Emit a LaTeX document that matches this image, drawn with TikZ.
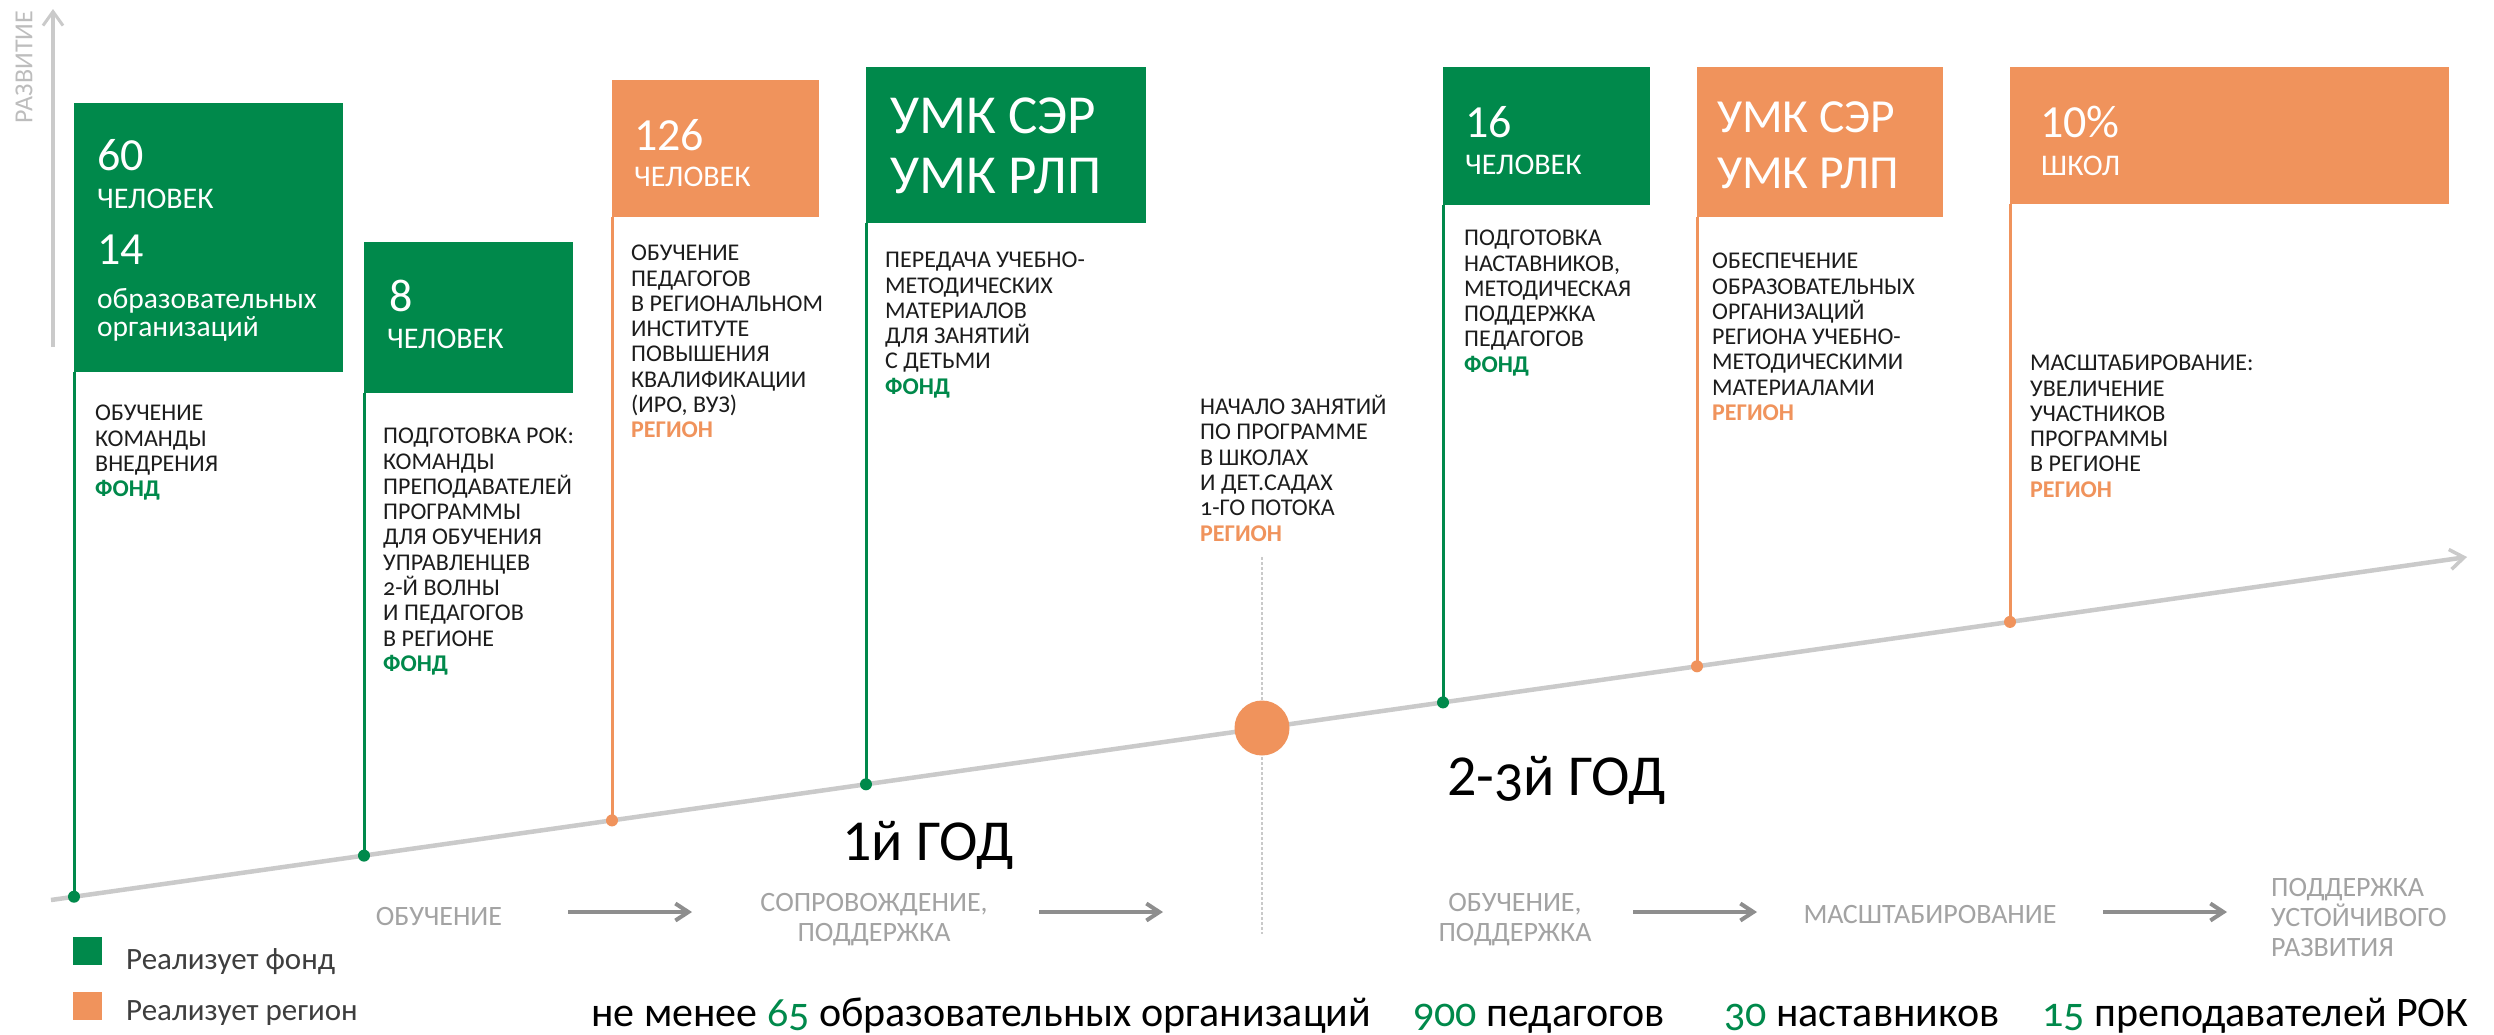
\documentclass[tikz,border=0pt]{standalone}
\usepackage{fontspec}
\setmainfont{Carlito}
\newfontfamily\oldnum[Numbers=OldStyle]{Carlito}
\usetikzlibrary{arrows.meta}
\definecolor{fgreen}{HTML}{00894B}
\definecolor{forange}{HTML}{F0935C}
\definecolor{tlgray}{HTML}{CACACA}
\definecolor{lblgray}{HTML}{A3A3A3}
\definecolor{arrgray}{HTML}{8E8E8E}
\definecolor{txt}{HTML}{1C1C1C}
\definecolor{axtxt}{HTML}{BDBDBD}
\newcommand\fondlbl{{\bfseries\color{fgreen}ФОНД}}
\newcommand\regionlbl{{\bfseries\color{forange}РЕГИОН}}
\begin{document}
\begin{tikzpicture}[x=1pt,y=-1pt,
  gbox/.style={fill=fgreen,draw=none,inner sep=0pt,anchor=north west},
  obox/.style={fill=forange,draw=none,inner sep=0pt,anchor=north west},
  gpole/.style={draw=fgreen,line width=3pt},
  opole/.style={draw=forange,line width=3pt},
  gdot/.style={circle,fill=fgreen,inner sep=0pt,minimum size=12pt},
  odot/.style={circle,fill=forange,inner sep=0pt,minimum size=12pt},
  body/.style={anchor=north west,inner sep=0pt,align=left,text=txt,font=\fontsize{24}{25.3}\selectfont},
  bignum/.style={anchor=base west,inner sep=0pt,text=white,font=\fontsize{46}{46}\selectfont},
  unit/.style={anchor=base west,inner sep=0pt,text=white,font=\fontsize{30}{30}\selectfont},
  umk/.style={anchor=base west,inner sep=0pt,text=white,align=left},
  stage/.style={inner sep=0pt,text=lblgray,align=center,font=\fontsize{28}{30}\selectfont},
  flow/.style={draw=arrgray,line width=4.5pt,-{Straight Barb[length=13pt,width=17pt,line width=4pt]}},
  year/.style={anchor=base west,inner sep=0pt,text=black,font=\fontsize{58}{58}\selectfont},
  total/.style={anchor=base west,inner sep=0pt,text=black,font=\fontsize{42}{42}\selectfont},
  legend/.style={anchor=base west,inner sep=0pt,text=txt!85,font=\fontsize{31}{31}\selectfont}
]
\useasboundingbox[fill=white] (0,0) rectangle (2494,1034);

% development axis
\coordinate (ax0) at (53,347);
\coordinate (ax1) at (53,9);
\draw[tlgray,line width=3.5pt,-{Straight Barb[length=14pt,width=20pt,line width=3pt]}] (ax0) -- (ax1);
\node[rotate=90,inner sep=0pt,text=axtxt,font=\fontsize{26}{26}\selectfont] (axl) at (24,67) {РАЗВИТИЕ};

% timeline
\coordinate (tl0) at (51,900);
\coordinate (tl1) at (2467,557);
\draw[tlgray,line width=4.5pt,-{Straight Barb[length=14pt,width=20pt,line width=3.5pt]}] (tl0) -- (tl1);

% vertical dashed divider
\coordinate (dv0) at (1262,557);
\coordinate (dv1) at (1262,934);
\draw[tlgray,line width=1.2pt,dash pattern=on 3pt off 2pt] (dv0) -- (dv1);
\node[circle,fill=forange,inner sep=0pt,minimum size=55pt] (mid) at (1262,728) {};

% dots on the timeline
\node[gdot] (d1) at (74,896.7) {};
\node[gdot] (d2) at (364,855.6) {};
\node[odot] (d3) at (612,820.4) {};
\node[gdot] (d4) at (866,784.3) {};
\node[gdot] (d5) at (1443,702.4) {};
\node[odot] (d6) at (1697,666.3) {};
\node[odot] (d7) at (2010,621.9) {};

% boxes
\node[gbox,minimum width=269pt,minimum height=269pt] (b1) at (74,103) {};
\node[gbox,minimum width=209pt,minimum height=151pt] (b2) at (364,242) {};
\node[obox,minimum width=207pt,minimum height=137pt] (b3) at (612,80) {};
\node[gbox,minimum width=280pt,minimum height=156pt] (b4) at (866,67) {};
\node[gbox,minimum width=207pt,minimum height=138pt] (b5) at (1443,67) {};
\node[obox,minimum width=246pt,minimum height=150pt] (b6) at (1697,67) {};
\node[obox,minimum width=439pt,minimum height=137pt] (b7) at (2010,67) {};

% poles
\draw[gpole] (d1.center) -- (b1.south west);
\draw[gpole] (d2.center) -- (b2.south west);
\draw[opole] (d3.center) -- (b3.south west);
\draw[gpole] (d4.center) -- (b4.south west);
\draw[gpole] (d5.center) -- (b5.south west);
\draw[opole] (d6.center) -- (b6.south west);
\draw[opole] (d7.center) -- (b7.south west);

% box headers
\node[bignum] (n1) at (97,170) {60};
\node[unit] (u1) at (97,208) {ЧЕЛОВЕК};
\node[bignum] (n1b) at (97,264) {14};
\node[unit,font=\fontsize{29.5}{29.5}\selectfont] (u1b) at (97,308) {образовательных};
\node[unit,font=\fontsize{29.5}{29.5}\selectfont] (u1c) at (97,336) {организаций};
\node[bignum] (n2) at (389,311) {8};
\node[unit] (u2) at (387,348) {ЧЕЛОВЕК};
\node[bignum] (n3) at (634,150) {126};
\node[unit] (u3) at (634,186) {ЧЕЛОВЕК};
\node[umk,font=\fontsize{55}{55}\selectfont] (m4a) at (890,133) {УМК СЭР};
\node[umk,font=\fontsize{55}{55}\selectfont] (m4b) at (890,193) {УМК РЛП};
\node[bignum] (n5) at (1465,137) {16};
\node[unit] (u5) at (1465,174) {ЧЕЛОВЕК};
\node[umk,font=\fontsize{47.5}{47.5}\selectfont] (m6a) at (1717,132) {УМК СЭР};
\node[umk,font=\fontsize{47.5}{47.5}\selectfont] (m6b) at (1717,188) {УМК РЛП};
\node[bignum] (n7) at (2040,137) {10\%};
\node[unit] (u7) at (2041,175) {ШКОЛ};

% descriptions
\node[body] (t1) at (95,405) {ОБУЧЕНИЕ\\КОМАНДЫ\\ВНЕДРЕНИЯ\\\fondlbl};
\node[body] (t2) at (383,428) {ПОДГОТОВКА РОК:\\КОМАНДЫ\\ПРЕПОДАВАТЕЛЕЙ\\ПРОГРАММЫ\\ДЛЯ ОБУЧЕНИЯ\\УПРАВЛЕНЦЕВ\\{\oldnum 2}-Й ВОЛНЫ\\И ПЕДАГОГОВ\\В РЕГИОНЕ\\\fondlbl};
\node[body] (t3) at (631,245) {ОБУЧЕНИЕ\\ПЕДАГОГОВ\\В РЕГИОНАЛЬНОМ\\ИНСТИТУТЕ\\ПОВЫШЕНИЯ\\КВАЛИФИКАЦИИ\\(ИРО, ВУЗ)\\\regionlbl};
\node[body] (t4) at (885,252) {ПЕРЕДАЧА УЧЕБНО-\\МЕТОДИЧЕСКИХ\\МАТЕРИАЛОВ\\ДЛЯ ЗАНЯТИЙ\\С ДЕТЬМИ\\\fondlbl};
\node[body] (tm) at (1200,395) {НАЧАЛО ЗАНЯТИЙ\\ПО ПРОГРАММЕ\\В ШКОЛАХ\\И ДЕТ.САДАХ\\{\oldnum 1}-ГО ПОТОКА\\\regionlbl};
\node[body] (t5) at (1464,230) {ПОДГОТОВКА\\НАСТАВНИКОВ,\\МЕТОДИЧЕСКАЯ\\ПОДДЕРЖКА\\ПЕДАГОГОВ\\\fondlbl};
\node[body] (t6) at (1712,253) {ОБЕСПЕЧЕНИЕ\\ОБРАЗОВАТЕЛЬНЫХ\\ОРГАНИЗАЦИЙ\\РЕГИОНА УЧЕБНО-\\МЕТОДИЧЕСКИМИ\\МАТЕРИАЛАМИ\\\regionlbl};
\node[body] (t7) at (2030,355) {МАСШТАБИРОВАНИЕ:\\УВЕЛИЧЕНИЕ\\УЧАСТНИКОВ\\ПРОГРАММЫ\\В РЕГИОНЕ\\\regionlbl};

% years
\node[year] (y1) at (842,860) {1й ГОД};
\node[year] (y2) at (1447,795) {2-{\oldnum 3}й ГОД};

% stages
\node[stage] (s1) at (439,916) {ОБУЧЕНИЕ};
\node[stage] (s2) at (874,920) {СОПРОВОЖДЕНИЕ,\\ПОДДЕРЖКА};
\node[stage] (s3) at (1515,920) {ОБУЧЕНИЕ,\\ПОДДЕРЖКА};
\node[stage] (s4) at (1930,914) {МАСШТАБИРОВАНИЕ};
\node[stage,anchor=west,align=left] (s5) at (2271,917) {ПОДДЕРЖКА\\УСТОЙЧИВОГО\\РАЗВИТИЯ};
\coordinate (f1a) at (568,912); \coordinate (f1b) at (692,912);
\coordinate (f2a) at (1039,912); \coordinate (f2b) at (1163,912);
\coordinate (f3a) at (1633,912); \coordinate (f3b) at (1757,912);
\coordinate (f4a) at (2103,912); \coordinate (f4b) at (2227,912);
\draw[flow] (f1a) -- (f1b);
\draw[flow] (f2a) -- (f2b);
\draw[flow] (f3a) -- (f3b);
\draw[flow] (f4a) -- (f4b);

% legend
\node[fill=fgreen,inner sep=0pt,minimum width=29pt,minimum height=28pt,anchor=north west] (lg) at (73,937) {};
\node[fill=forange,inner sep=0pt,minimum width=29pt,minimum height=28pt,anchor=north west] (lo) at (73,992) {};
\node[legend] (lgt) at (126,969) {Реализует фонд};
\node[legend] (lot) at (126,1020) {Реализует регион};

% totals
\node[total] (tot1) at (591,1026) {не менее {\oldnum\color{fgreen}65} образовательных организаций};
\node[total] (tot2) at (1413,1026) {{\oldnum\color{fgreen}900} педагогов};
\node[total] (tot3) at (1724,1026) {{\oldnum\color{fgreen}30} наставников};
\node[total] (tot4) at (2042,1026) {{\oldnum\color{fgreen}15} преподавателей РОК};
\end{tikzpicture}
\end{document}
